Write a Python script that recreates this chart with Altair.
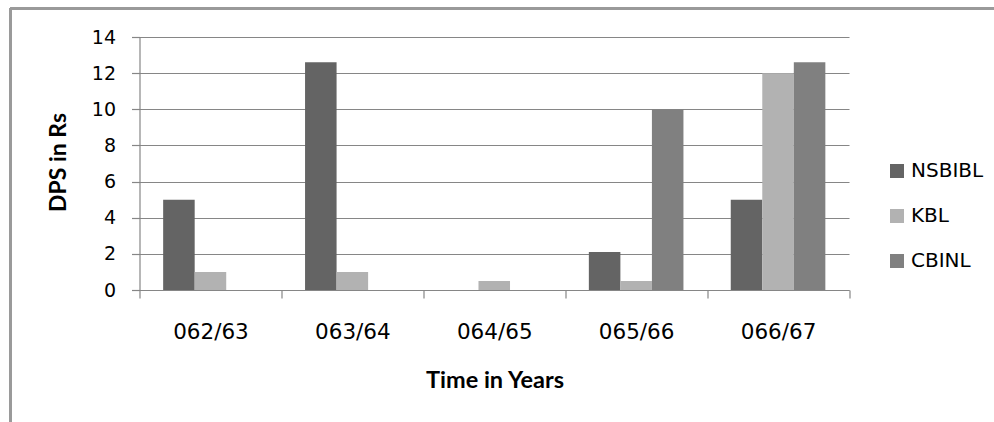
import altair as alt
import pandas as pd

years = ["062/63", "063/64", "064/65", "065/66", "066/67"]
series = ["NSBIBL", "KBL", "CBINL"]
nsbibl = [5.0, 12.6, 0.0, 2.1, 5.0]
kbl = [1.0, 1.0, 0.5, 0.5, 12.0]
cbinl = [0.0, 0.0, 0.0, 10.0, 12.6]
colors = ["#646464", "#b2b2b2", "#808080"]

rows = []
for name, vals in zip(series, [nsbibl, kbl, cbinl]):
    for y, v in zip(years, vals):
        rows.append({"Year": y, "Bank": name, "DPS": v})
df = pd.DataFrame(rows)

W, H = 709.5, 253
LFONT = "DejaVu Sans"
TFONT = "Lato"

bars = alt.Chart(df).mark_bar(strokeWidth=0).encode(
    x=alt.X("Year:N", sort=years,
            scale=alt.Scale(paddingInner=0, paddingOuter=0),
            axis=alt.Axis(title="Time in Years", labelAngle=0, tickBand="extent",
                          tickSize=8, labelPadding=34, labelBaseline="middle",
                          labelFontSize=21.5, titleFontSize=23.5, titleFontWeight="bold",
                          titleX=355, titleY=90, titleBaseline="middle", titleAlign="center",
                          grid=False)),
    xOffset=alt.XOffset("Bank:N", sort=series,
                        scale=alt.Scale(paddingInner=0, paddingOuter=0.75)),
    y=alt.Y("DPS:Q",
            scale=alt.Scale(domain=[0, 14], nice=False, zero=True),
            axis=alt.Axis(title="DPS in Rs", values=[0, 2, 4, 6, 8, 10, 12, 14],
                          tickSize=8, labelPadding=16, labelFontSize=19,
                          titleFontSize=23, titleFontWeight="bold",
                          titleX=-81, titleY=125, titleAngle=-90,
                          titleBaseline="middle", titleAlign="center",
                          grid=True)),
    color=alt.Color("Bank:N", sort=series,
                    scale=alt.Scale(domain=series, range=colors),
                    legend=alt.Legend(title=None, orient="none", legendX=747.5, legendY=124,
                                      symbolType="square", symbolSize=196,
                                      symbolStrokeWidth=0, labelFontSize=20,
                                      labelOffset=4, rowPadding=25)),
)

frame_top = alt.Chart(df).mark_rule(color="#9a9a9a", strokeWidth=2.5).encode(
    x=alt.value(-129), x2=alt.value(860), y=alt.value(-28.3))
frame_left = alt.Chart(df).mark_rule(color="#9a9a9a", strokeWidth=2.5).encode(
    x=alt.value(-129), y=alt.value(-28.3), y2=alt.value(400))

chart = alt.layer(frame_top, frame_left, bars).properties(
    width=W, height=H,
    autosize="none",
    padding={"left": 139.5, "top": 37, "right": 145, "bottom": 132},
    background="white",
).configure_view(stroke=None).configure_axis(
    domainColor="#868686", gridColor="#868686", tickColor="#868686",
    labelFont=LFONT, titleFont=TFONT, labelColor="#000000", titleColor="#000000",
    domainWidth=1.2, gridWidth=1.2, tickWidth=1.2,
).configure_legend(labelFont=LFONT, labelColor="#000000")

chart.save("out.html", embed_options={"renderer": "svg", "actions": False})
